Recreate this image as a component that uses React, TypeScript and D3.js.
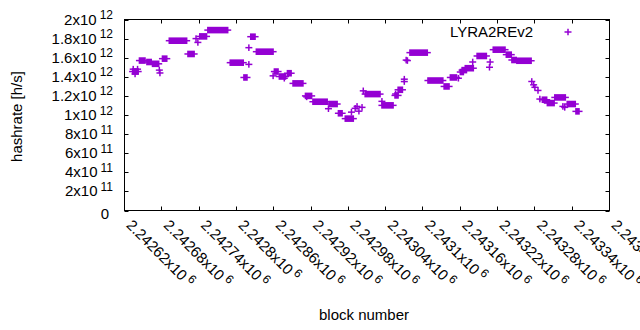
import * as d3 from "d3";

// runs of consecutive blocks that report the same hashrate (a single block has from == to)
const blockFrom = [
  2242633, 2242634, 2242641, 2242637, 2242644, 2242656, 2242665, 2242676, 2242677,
  2242681, 2242692, 2242722, 2242735, 2242738, 2242741, 2242754, 2242790, 2242812,
  2242820, 2242820, 2242823, 2242832, 2242859, 2242861, 2242869, 2242877, 2242882,
  2242891, 2242911, 2242913, 2242923, 2242948, 2242949, 2242964, 2242975, 2242985,
  2242991, 2242994, 2242997, 2243002, 2243004, 2243007, 2243034, 2243034, 2243055,
  2243056, 2243060, 2243070, 2243070, 2243073, 2243075, 2243079, 2243108, 2243134,
  2243144, 2243157, 2243160, 2243163, 2243168, 2243180, 2243187, 2243207, 2243208,
  2243213, 2243234, 2243243, 2243251, 2243275, 2243278, 2243280, 2243285, 2243288,
  2243292, 2243300, 2243312, 2243325, 2243328, 2243332, 2243346,
];
const blockTo = [
  2242642, 2242634, 2242641, 2242637, 2242653, 2242663, 2242675, 2242676, 2242677,
  2242688, 2242720, 2242732, 2242735, 2242738, 2242752, 2242786, 2242811, 2242817,
  2242820, 2242820, 2242830, 2242859, 2242859, 2242867, 2242879, 2242877, 2242888,
  2242907, 2242921, 2242913, 2242946, 2242948, 2242962, 2242970, 2242988, 2242985,
  2242991, 2242994, 2242997, 2243002, 2243004, 2243031, 2243034, 2243052, 2243060,
  2243056, 2243067, 2243070, 2243070, 2243073, 2243075, 2243107, 2243132, 2243142,
  2243154, 2243157, 2243165, 2243170, 2243181, 2243180, 2243202, 2243207, 2243208,
  2243232, 2243242, 2243250, 2243274, 2243275, 2243278, 2243280, 2243285, 2243288,
  2243299, 2243311, 2243329, 2243325, 2243328, 2243345, 2243351,
];
const hashrate = [
  1.455e12, 1.48e12, 1.48e12, 1.43e12, 1.57e12, 1.555e12, 1.536e12, 1.47e12, 1.44e12,
  1.59e12, 1.778e12, 1.639e12, 1.8e12, 1.76e12, 1.823e12, 1.889e12, 1.548e12, 1.393e12,
  1.705e12, 1.53e12, 1.82e12, 1.663e12, 1.41e12, 1.455e12, 1.403e12, 1.385e12, 1.4375e12,
  1.331e12, 1.2e12, 1.19e12, 1.139e12, 1.066e12, 1.115e12, 1.018e12, 0.962e12, 1.03e12,
  1.07e12, 1.09e12, 1.04e12, 1.08e12, 1.253e12, 1.219e12, 1.143e12, 1.101e12, 1.205e12,
  1.22e12, 1.264e12, 1.375e12, 1.35e12, 1.575e12, 1.57e12, 1.653e12, 1.361e12, 1.299e12,
  1.393e12, 1.385e12, 1.45e12, 1.47e12, 1.49e12, 1.555e12, 1.618e12, 1.5e12, 1.555e12,
  1.684e12, 1.632e12, 1.576e12, 1.568e12, 1.351e12, 1.316e12, 1.29e12, 1.257e12, 1.167e12,
  1.16e12, 1.125e12, 1.184e12, 1.09e12, 1.08e12, 1.115e12, 1.038e12,
];

const xTicks = [
  2242620, 2242680, 2242740, 2242800, 2242860, 2242920, 2242980,
  2243040, 2243100, 2243160, 2243220, 2243280, 2243340, 2243400,
];
const yTicks = [0, 2e11, 4e11, 6e11, 8e11, 1e12, 1.2e12, 1.4e12, 1.6e12, 1.8e12, 2e12];

const W = 640;
const H = 330;
const left = 124.5, right = 609.5, top = 19.5, bottom = 210.5;
const color = "#9400d3";
const font = "'Liberation Sans', Arial, sans-serif";
const fs = 15;

function sci(v: number, digits: number) {
  const e = Math.floor(Math.log10(v));
  const m = +(v / Math.pow(10, e)).toPrecision(digits);
  return { m: String(m), e: String(e) };
}

export default function App() {
  const x = d3.scaleLinear().domain([2242620, 2243400]).range([left, right]);
  const y = d3.scaleLinear().domain([0, 2e12]).range([bottom, top]);
  const tick = 4;
  const arm = 3.5;
  const half = 3.3;
  const lw = 1.5;

  return (
    <svg width={W} height={H} style={{ position: "absolute", left: 0, top: 0, background: "#fff" }}
      fontFamily={font} fontSize={fs}>
      <rect x={0} y={0} width={W} height={H} fill="#fff" />

      {/* data */}
      <g fill={color} stroke={color}>
        {hashrate.map((v, i) => {
          const x0 = x(blockFrom[i]);
          const x1 = x(blockTo[i]);
          const yy = y(v);
          return (
            <g key={i}>
              <line x1={x0 - arm} x2={x1 + arm} y1={yy} y2={yy} strokeWidth={lw} />
              <rect x={x0 - lw / 2} y={yy - half} width={x1 - x0 + lw} height={half * 2} stroke="none" />
            </g>
          );
        })}
      </g>

      {/* frame and ticks */}
      <g stroke="#000" strokeWidth={1} fill="none">
        <rect x={left} y={top} width={right - left} height={bottom - top} />
        {yTicks.map(t => {
          const yy = Math.round(y(t)) + 0.5;
          return (
            <g key={t}>
              <line x1={left} x2={left + tick} y1={yy} y2={yy} />
              <line x1={right} x2={right - tick} y1={yy} y2={yy} />
            </g>
          );
        })}
        {xTicks.map(t => {
          const xx = Math.round(x(t) - 0.5) + 0.5;
          return (
            <g key={t}>
              <line x1={xx} x2={xx} y1={bottom} y2={bottom - tick} />
              <line x1={xx} x2={xx} y1={top} y2={top + tick} />
            </g>
          );
        })}
      </g>

      {/* y tick labels */}
      <g fill="#000">
        {yTicks.map(t => {
          const yy = y(t);
          if (t === 0) {
            return <text key={t} x={109} y={yy + 8.5} textAnchor="end">0</text>;
          }
          const { m, e } = sci(t, 6);
          return (
            <text key={t} x={113} y={yy + 5} textAnchor="end">
              {m}x10<tspan dx={3} dy={-5.5} fontSize={12}>{e}</tspan>
            </text>
          );
        })}
      </g>

      {/* x tick labels */}
      <g fill="#000">
        {xTicks.map(t => {
          const xx = x(t);
          const { m, e } = sci(t, 6);
          return (
            <text key={t} transform={`translate(${xx + 1},${226}) rotate(45)`}>
              {m}x10<tspan dx={3} dy={-5.5} fontSize={12}>{e}</tspan>
            </text>
          );
        })}
      </g>

      {/* axis titles */}
      <text transform="translate(22,116.5) rotate(-90)" textAnchor="middle" fill="#000">hashrate [h/s]</text>
      <text x={364} y={320} textAnchor="middle" fill="#000">block number</text>

      {/* legend */}
      <text x={533} y={37} textAnchor="end" fill="#000">LYRA2REv2</text>
      <g stroke={color} strokeWidth={lw}>
        <line x1={568 - arm} x2={568 + arm} y1={32} y2={32} />
        <line x1={568} x2={568} y1={32 - half} y2={32 + half} />
      </g>
    </svg>
  );
}
